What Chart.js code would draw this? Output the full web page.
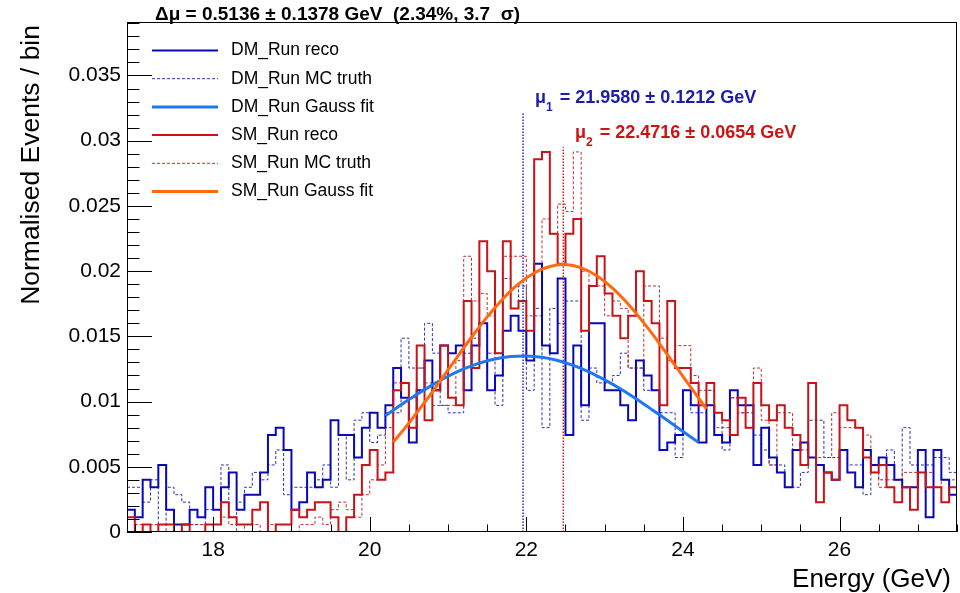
<!DOCTYPE html>
<html>
<head>
<meta charset="utf-8">
<script src="https://cdn.jsdelivr.net/npm/chart.js@4.4.1/dist/chart.umd.min.js"></script>
<style>
  html, body { margin: 0; padding: 0; background: #fff; }
  #wrap { width: 960px; height: 593px; }
</style>
</head>
<body>
<div id="wrap"><canvas id="chart" width="960" height="593"></canvas></div>
<script>
// histogram binning (GeV)
const binLow = 16.9;
const binWidth = 0.1;

// DM_Run reco (solid dark blue)
const dmReco = [
  0.00171, 0.00114, 0.004, 0.00343, 0.00514, 0.00171, 0.00057, 0.00057, 0.00171, 0.00114,
  0.00343, 0.00171, 0.00343, 0.00457, 0.00171, 0.00286, 0.00286, 0.00457, 0.00743, 0.008,
  0.00629, 0.00171, 0.00229, 0.00457, 0.00343, 0.004, 0.00857, 0.00743, 0.00743, 0.00571,
  0.008, 0.00914, 0.008, 0.00971, 0.01257, 0.01029, 0.00686, 0.01086, 0.01314, 0.01086,
  0.01429, 0.01371, 0.01429, 0.01086, 0.01429, 0.016, 0.01086, 0.012, 0.01543, 0.01657,
  0.01543, 0.01314, 0.02057, 0.01429, 0.01371, 0.01943, 0.00743, 0.01429, 0.00971, 0.016,
  0.016, 0.01086, 0.01086, 0.00971, 0.00857, 0.01314, 0.012, 0.01086, 0.00629, 0.00686,
  0.00743, 0.01086, 0.00971, 0.00686, 0.00971, 0.00743, 0.00686, 0.01086, 0.00971, 0.00971,
  0.00514, 0.008, 0.00571, 0.00457, 0.00343, 0.00629, 0.00686, 0.00571, 0.00514, 0.00457,
  0.004, 0.00629, 0.00457, 0.00343, 0.00629, 0.00514, 0.00571, 0.00514, 0.004, 0.00343,
  0.00343, 0.00629, 0.00114, 0.00629, 0.004, 0.00286
];

// DM_Run MC truth (dashed blue)
const dmTruth = [
  0.00343, 0.00343, 0.00229, 0.004, 0.00057, 0.00343, 0.00286, 0.00229, 0.00057, 0.00057,
  0.00171, 0.00171, 0.00514, 0.00114, 0.00229, 0.00343, 0.00457, 0.004, 0.00514, 0.00629,
  0.00286, 0.00343, 0.00343, 0.00343, 0.004, 0.00514, 0.00343, 0.00743, 0.004, 0.00857,
  0.00914, 0.00686, 0.00743, 0.00914, 0.00914, 0.01486, 0.01257, 0.01257, 0.016, 0.01371,
  0.00971, 0.00914, 0.00914, 0.01371, 0.01486, 0.016, 0.01371, 0.00971, 0.01943, 0.01714,
  0.01886, 0.01086, 0.01714, 0.008, 0.01714, 0.016, 0.01771, 0.01771, 0.00857, 0.01257,
  0.01143, 0.01143, 0.012, 0.01371, 0.01257, 0.01257, 0.01086, 0.01086, 0.00914, 0.00914,
  0.00571, 0.01086, 0.00914, 0.00914, 0.01086, 0.00914, 0.00629, 0.01029, 0.00914, 0.00914,
  0.00743, 0.00629, 0.00514, 0.00514, 0.00343, 0.00343, 0.00457, 0.00857, 0.00857, 0.00571,
  0.00571, 0.00629, 0.00514, 0.00514, 0.00286, 0.00457, 0.004, 0.00629, 0.004, 0.008,
  0.00514, 0.00514, 0.00514, 0.00571, 0.00571, 0.00457
];

// SM_Run reco (solid red)
const smReco = [
  0.00114, 0, 0.00057, 0, 0.00057, 0.00057, 0, 0.00057, 0, 0,
  0.00057, 0.00057, 0.00229, 0.00114, 0.00057, 0.00057, 0.00171, 0.00229, 0, 0.00057,
  0.00057, 0.00171, 0.00114, 0.00171, 0.00229, 0.00229, 0.00114, 0, 0.00114, 0.00286,
  0.00514, 0.00629, 0.004, 0.00457, 0.01086, 0.01143, 0.008, 0.01429, 0.00857, 0.01086,
  0.01429, 0.01029, 0.00971, 0.01771, 0.01257, 0.02229, 0.02, 0.01371, 0.02229, 0.01714,
  0.01771, 0.01543, 0.02857, 0.02914, 0.02286, 0.02057, 0.02286, 0.024, 0.01543, 0.01886,
  0.02114, 0.01829, 0.01657, 0.01486, 0.01657, 0.02, 0.01771, 0.016, 0.00971, 0.01771,
  0.01257, 0.01257, 0.01143, 0.00971, 0.01143, 0.00914, 0.00857, 0.00743, 0.01029, 0.008,
  0.01143, 0.00971, 0.00857, 0.00971, 0.008, 0.00743, 0.00514, 0.01143, 0.00229, 0.00457,
  0.004, 0.00971, 0.00857, 0.008, 0.00571, 0.00457, 0.00514, 0.00343, 0.00229, 0.00343,
  0.00171, 0.00457, 0.00343, 0.00343, 0.00229, 0.00343
];

// SM_Run MC truth (dashed red)
const smTruth = [
  0, 0.00057, 0, 0.00057, 0.00057, 0, 0.00057, 0, 0.00057, 0.00057,
  0, 0.00057, 0.00114, 0.00057, 0, 0.00057, 0.00057, 0, 0.00057, 0.00057,
  0.00057, 0, 0.00057, 0.00057, 0.00114, 0.00057, 0.00171, 0.00229, 0.00171, 0.00114,
  0.00286, 0.004, 0.00514, 0.008, 0.01143, 0.01143, 0.01029, 0.01257, 0.01143, 0.00971,
  0.00971, 0.00971, 0.01314, 0.02114, 0.01771, 0.01829, 0.01657, 0.01371, 0.02114, 0.02114,
  0.02114, 0.01657, 0.01657, 0.024, 0.02286, 0.02514, 0.02457, 0.02914, 0.02, 0.01886,
  0.01886, 0.01657, 0.01771, 0.01714, 0.01257, 0.01257, 0.01886, 0.01886, 0.01486, 0.01314,
  0.01429, 0.01429, 0.012, 0.01086, 0.01086, 0.008, 0.008, 0.01029, 0.00914, 0.008,
  0.01257, 0.00857, 0.00514, 0.00914, 0.00914, 0.00629, 0.00629, 0.00571, 0.00571, 0.00571,
  0.00914, 0.008, 0.008, 0.008, 0.00743, 0.00457, 0.00343, 0.004, 0.004, 0.00457,
  0.00457, 0.00457, 0.00457, 0.00343, 0.004, 0.004
];

// Gauss fits
const dmFitX = [20.2, 20.4, 20.6, 20.8, 21.0, 21.2, 21.4, 21.6, 21.8, 22.0, 22.2,
                22.4, 22.6, 22.8, 23.0, 23.2, 23.4, 23.6, 23.8, 24.0, 24.2];
const dmFitY = [0.00891, 0.00975, 0.01054, 0.01128, 0.01194, 0.0125, 0.01295, 0.01327, 0.01345, 0.0135, 0.01339,
                0.01315, 0.01277, 0.01227, 0.01166, 0.01098, 0.01022, 0.0094, 0.00856, 0.00771, 0.00687];
const smFitX = [20.3, 20.5, 20.7, 20.9, 21.1, 21.3, 21.5, 21.7, 21.9, 22.1, 22.3,
                22.5, 22.7, 22.9, 23.1, 23.3, 23.5, 23.7, 23.9, 24.1, 24.3];
const smFitY = [0.00689, 0.00835, 0.00993, 0.01159, 0.01328, 0.01493, 0.01649, 0.01787, 0.01902, 0.01986, 0.02036,
                0.0205, 0.02025, 0.01964, 0.0187, 0.01748, 0.01603, 0.01445, 0.01277, 0.01109, 0.00944];

// fitted means and the height of their marker lines
const mu1 = 21.958;
const mu2 = 22.4716;
const mu1LineTop = 0.0322;
const mu2LineTop = 0.0295;

const xMajorTicks = [18, 20, 22, 24, 26];
const yMajorTicks = [0, 0.005, 0.01, 0.015, 0.02, 0.025, 0.03, 0.035];

const legendItems = [
  { label: 'DM_Run reco',      color: '#0808b8', width: 2, dash: [] },
  { label: 'DM_Run MC truth',  color: '#3030b0', width: 1, dash: [3, 2] },
  { label: 'DM_Run Gauss fit', color: '#1f78f0', width: 3, dash: [] },
  { label: 'SM_Run reco',      color: '#c81419', width: 2, dash: [] },
  { label: 'SM_Run MC truth',  color: '#c03030', width: 1, dash: [3, 2] },
  { label: 'SM_Run Gauss fit', color: '#ff6a10', width: 3, dash: [] }
];

const FONT = '"Liberation Sans", Arial, Helvetica, sans-serif';

function histPoints(values) {
  const pts = values.map((v, i) => ({ x: binLow + i * binWidth, y: v }));
  pts.push({ x: binLow + values.length * binWidth, y: values[values.length - 1] });
  return pts;
}

function curvePoints(xs, ys) {
  return xs.map((x, i) => ({ x: x, y: ys[i] }));
}

function histDataset(values, item, order) {
  return {
    data: histPoints(values),
    borderColor: item.color,
    borderWidth: item.width,
    borderDash: item.dash,
    stepped: true,
    pointRadius: 0,
    fill: false,
    order: order
  };
}

// ROOT-like frame, inward ticks, titles, legend and labels
const rootDecor = {
  id: 'rootDecor',
  afterDatasetsDraw(chart) {
    const ctx = chart.ctx;
    const { left, right, top, bottom } = chart.chartArea;
    const xs = chart.scales.x;
    const ys = chart.scales.y;
    ctx.save();

    ctx.strokeStyle = '#000';
    ctx.lineWidth = 1;
    ctx.setLineDash([]);
    ctx.strokeRect(left + 0.5, top + 0.5, right - left - 1, bottom - top - 1);

    // x ticks: major every 2, minor every 0.5
    ctx.beginPath();
    for (let i = 34; i <= 55; i++) {
      const v = i * 0.5;
      const px = Math.round(xs.getPixelForValue(v)) + 0.5;
      const len = (i % 4 === 0) ? 15 : 7.5;
      ctx.moveTo(px, bottom);
      ctx.lineTo(px, bottom - len);
    }
    // y ticks: major every 0.005, minor every 0.001
    for (let i = 0; i <= 39; i++) {
      const v = i * 0.001;
      const py = Math.round(ys.getPixelForValue(v)) + 0.5;
      const len = (i % 5 === 0) ? 25 : 12.5;
      ctx.moveTo(left, py);
      ctx.lineTo(left + len, py);
    }
    ctx.stroke();

    // title
    ctx.fillStyle = '#000';
    ctx.font = 'bold 19px ' + FONT;
    ctx.textAlign = 'left';
    ctx.textBaseline = 'alphabetic';
    ctx.fillText('\u0394\u03bc = 0.5136 \u00b1 0.1378 GeV  (2.34%, 3.7  \u03c3)', 155, 20);

    // legend
    legendItems.forEach((item, i) => {
      const y = 50.5 + i * 28.2;
      ctx.beginPath();
      ctx.strokeStyle = item.color;
      ctx.lineWidth = item.width;
      ctx.setLineDash(item.dash);
      ctx.moveTo(152, y);
      ctx.lineTo(218, y);
      ctx.stroke();
      ctx.setLineDash([]);
      ctx.fillStyle = '#000';
      ctx.font = '17.5px ' + FONT;
      ctx.textBaseline = 'middle';
      ctx.fillText(item.label, 231, y);
    });

    // fitted mean labels
    function muLabel(x, y, sub, rest, color) {
      ctx.fillStyle = color;
      ctx.textBaseline = 'alphabetic';
      ctx.font = 'bold 18px ' + FONT;
      ctx.fillText('\u03bc', x, y);
      let cx = x + ctx.measureText('\u03bc').width;
      ctx.font = 'bold 12px ' + FONT;
      ctx.fillText(sub, cx, y + 8);
      cx += ctx.measureText(sub).width + 2;
      ctx.font = 'bold 18px ' + FONT;
      ctx.fillText(rest, cx, y);
    }
    muLabel(535, 103, '1', ' = 21.9580 \u00b1 0.1212 GeV', '#1c1cac');
    muLabel(575, 138, '2', ' = 22.4716 \u00b1 0.0654 GeV', '#cc1414');

    // axis titles
    ctx.fillStyle = '#000';
    ctx.font = '26px ' + FONT;
    ctx.textAlign = 'right';
    ctx.textBaseline = 'alphabetic';
    ctx.fillText('Energy (GeV)', 951, 587);

    ctx.save();
    ctx.translate(39, 25);
    ctx.rotate(-Math.PI / 2);
    ctx.textAlign = 'right';
    ctx.font = '26.5px ' + FONT;
    ctx.fillText('Normalised Events / bin', 0, 0);
    ctx.restore();

    ctx.restore();
  }
};

const ctx = document.getElementById('chart').getContext('2d');
new Chart(ctx, {
  type: 'line',
  data: {
    datasets: [
      { data: curvePoints(smFitX, smFitY), borderColor: '#ff6a10', borderWidth: 3, tension: 0.3, pointRadius: 0, fill: false, order: 0 },
      { data: curvePoints(dmFitX, dmFitY), borderColor: '#1f78f0', borderWidth: 3, tension: 0.3, pointRadius: 0, fill: false, order: 1 },
      { data: [{ x: mu1, y: 0 }, { x: mu1, y: mu1LineTop }], borderColor: '#2a2ac0', borderWidth: 1.5, borderDash: [1.5, 1.5], pointRadius: 0, fill: false, order: 2 },
      { data: [{ x: mu2, y: 0 }, { x: mu2, y: mu2LineTop }], borderColor: '#d02020', borderWidth: 1.5, borderDash: [1.5, 1.5], pointRadius: 0, fill: false, order: 2 },
      histDataset(smReco, legendItems[3], 3),
      histDataset(dmReco, legendItems[0], 4),
      histDataset(smTruth, legendItems[4], 5),
      histDataset(dmTruth, legendItems[1], 6)
    ]
  },
  options: {
    responsive: false,
    animation: false,
    devicePixelRatio: 1,
    layout: { padding: { top: 22, right: 3, left: 0, bottom: 0 } },
    plugins: {
      legend: { display: false },
      tooltip: { enabled: false },
      title: { display: false }
    },
    scales: {
      x: {
        type: 'linear',
        min: 16.9,
        max: 27.5,
        grid: { display: false, drawTicks: false },
        border: { display: false },
        afterBuildTicks: (scale) => { scale.ticks = xMajorTicks.map(v => ({ value: v })); },
        afterFit: (scale) => { scale.height = 61; },
        ticks: {
          autoSkip: false,
          maxRotation: 0,
          padding: 6,
          color: '#000',
          font: { family: FONT, size: 21 },
          callback: (v) => String(v)
        }
      },
      y: {
        type: 'linear',
        min: 0,
        max: 0.0391,
        grid: { display: false, drawTicks: false },
        border: { display: false },
        afterBuildTicks: (scale) => { scale.ticks = yMajorTicks.map(v => ({ value: v })); },
        afterFit: (scale) => { scale.width = 127; },
        ticks: {
          autoSkip: false,
          padding: 6,
          color: '#000',
          font: { family: FONT, size: 21 },
          callback: (v) => String(parseFloat(v.toFixed(3)))
        }
      }
    }
  },
  plugins: [rootDecor]
});
</script>
</body>
</html>
